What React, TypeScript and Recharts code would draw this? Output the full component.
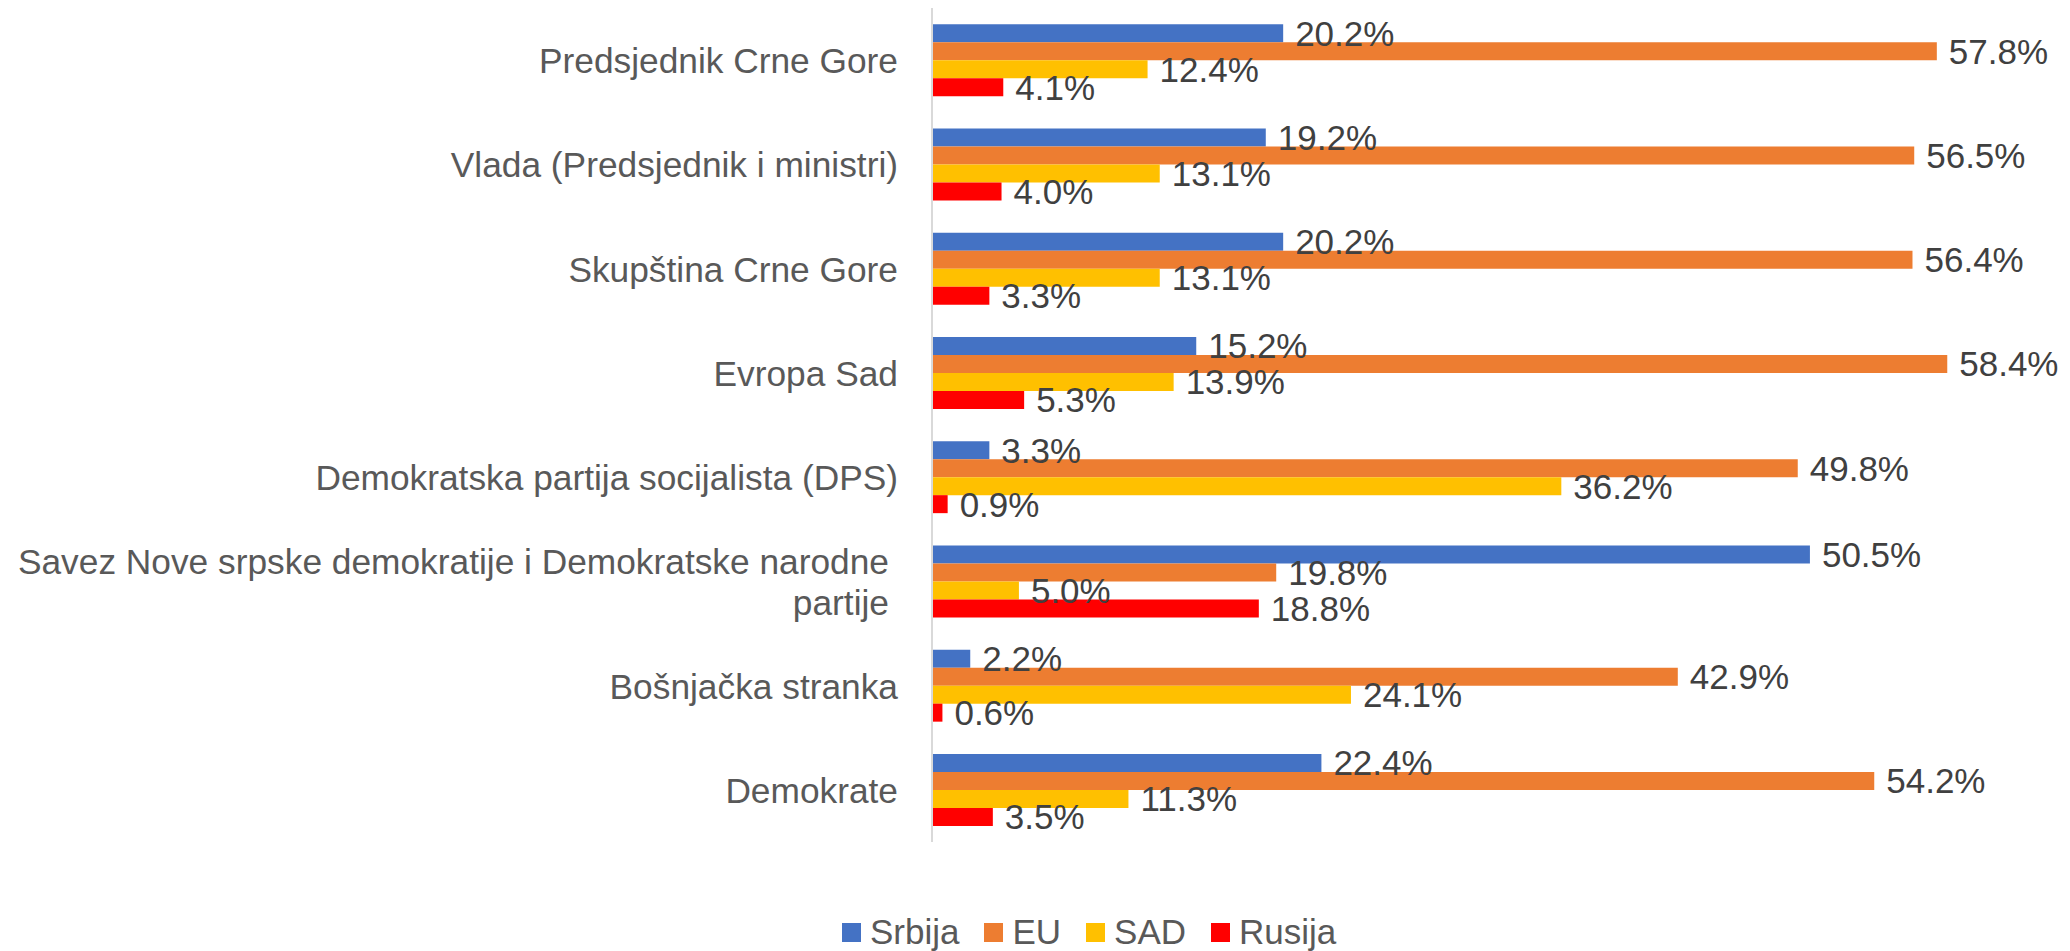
import React from "react";
import { BarChart, Bar, XAxis, YAxis, LabelList, Legend } from "recharts";

const categories = [
  "Predsjednik Crne Gore",
  "Vlada (Predsjednik i ministri)",
  "Skupština Crne Gore",
  "Evropa Sad",
  "Demokratska partija socijalista (DPS)",
  "Savez Nove srpske demokratije i Demokratske narodne partije",
  "Bošnjačka stranka",
  "Demokrate",
];

const srbija = [20.2, 19.2, 20.2, 15.2, 3.3, 50.5, 2.2, 22.4];
const eu = [57.8, 56.5, 56.4, 58.4, 49.8, 19.8, 42.9, 54.2];
const sad = [12.4, 13.1, 13.1, 13.9, 36.2, 5.0, 24.1, 11.3];
const rusija = [4.1, 4.0, 3.3, 5.3, 0.9, 18.8, 0.6, 3.5];

const seriesNames = ["Srbija", "EU", "SAD", "Rusija"];
const seriesKeys = ["srbija", "eu", "sad", "rusija"];
const seriesColors = ["#4472C4", "#ED7D31", "#FFC000", "#FF0000"];

const data = categories.map((name, i) => ({
  name,
  srbija: srbija[i],
  eu: eu[i],
  sad: sad[i],
  rusija: rusija[i],
}));

const FONT = "'Liberation Sans', Arial, sans-serif";
const FS_CAT = 35.3;
const FS_VAL = 35;
const FS_LEG = 35;

function wrap(text: string, maxChars: number): string[] {
  const words = text.split(" ");
  const lines: string[] = [];
  let cur = "";
  for (const w of words) {
    const next = cur ? cur + " " + w : w;
    if (next.length > maxChars && cur) {
      lines.push(cur);
      cur = w;
    } else {
      cur = next;
    }
  }
  if (cur) lines.push(cur);
  return lines;
}

const CategoryTick = (props: any) => {
  const { x, y, payload } = props;
  const lines = wrap(String(payload.value), 52);
  const lh = 41;
  const multi = lines.length > 1;
  const startY = y - ((lines.length - 1) * lh) / 2;
  const tx = x - 34 - (multi ? 9 : 0);
  return (
    <g>
      <text
        x={tx}
        y={startY}
        textAnchor="end"
        fill="#595959"
        fontSize={FS_CAT}
        fontFamily={FONT}
        dominantBaseline="central"
      >
        {lines.map((l, i) => (
          <tspan key={i} x={tx} y={startY + i * lh} dominantBaseline="central">
            {l}
          </tspan>
        ))}
      </text>
    </g>
  );
};

const LegendContent = () => (
  <div
    style={{
      height: 109,
      display: "flex",
      alignItems: "flex-end",
      paddingLeft: 834,
      boxSizing: "border-box",
      fontFamily: FONT,
      fontSize: FS_LEG,
      color: "#595959",
    }}
  >
    <div style={{ display: "flex", alignItems: "center", height: 38 }}>
      {seriesNames.map((n, i) => (
        <div key={n} style={{ display: "flex", alignItems: "center", marginRight: 25 }}>
          <div style={{ width: 19, height: 19, background: seriesColors[i], marginRight: 9 }} />
          <span style={{ lineHeight: "38px" }}>{n}</span>
        </div>
      ))}
    </div>
  </div>
);

export default function App() {
  return (
    <div style={{ width: 2062, height: 943, background: "#fff" }}>
      <BarChart
        width={2062}
        height={943}
        data={data}
        layout="vertical"
        margin={{ top: 0, right: 8, bottom: 0, left: 0 }}
        barCategoryGap="15.5%"
        barGap={0}
      >
        <XAxis type="number" domain={[0, 65]} hide />
        <YAxis
          type="category"
          dataKey="name"
          width={924}
          axisLine={{ stroke: "#D9D9D9", strokeWidth: 2 }}
          tickLine={false}
          tickSize={0}
          tickMargin={0}
          tick={<CategoryTick />}
          interval={0}
        />
        <Legend verticalAlign="bottom" content={<LegendContent />} />
        {seriesKeys.map((k, i) => (
          <Bar key={k} dataKey={k} name={seriesNames[i]} fill={seriesColors[i]} isAnimationActive={false}>
            <LabelList
              dataKey={k}
              position="right"
              offset={12}
              formatter={(v: any) => `${Number(v).toFixed(1)}%`}
              fill="#404040"
              fontSize={FS_VAL}
              fontFamily={FONT}
            />
          </Bar>
        ))}
      </BarChart>
    </div>
  );
}
